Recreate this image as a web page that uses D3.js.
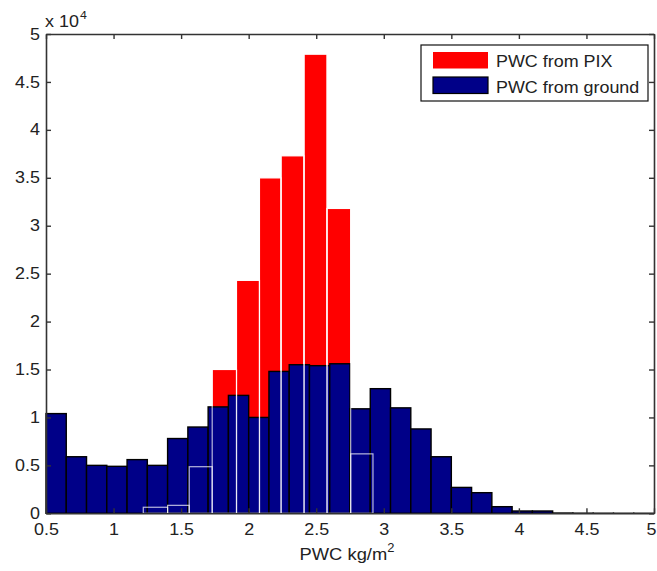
<!DOCTYPE html>
<html>
<head>
<meta charset="utf-8">
<script src="https://cdn.jsdelivr.net/npm/d3@7"></script>
<style>
  html, body { margin: 0; padding: 0; background: #fff; }
  svg { display: block; font-family: "Liberation Sans", Arial, Helvetica, sans-serif; }
</style>
</head>
<body>
<svg id="chart" width="657" height="571"></svg>
<script>
// Histogram of precipitable water content (PWC): ground bins (0.15 wide) and PIX bins.
const groundStart = 0.5;
const groundWidth = 0.15;
const groundCounts = [10400, 5900, 5000, 4900, 5600, 5000, 7800, 9000, 11100, 12300,
                      10000, 14800, 15500, 15400, 15600, 10900, 13000, 11000, 8800, 5900,
                      2700, 2150, 690, 240, 240, 30, 15, 10, 5, 5];

const pixEdges  = [1.22, 1.40, 1.56, 1.73, 1.91, 2.08, 2.24, 2.41, 2.58, 2.755, 2.92];
const pixCounts = [630, 830, 4860, 15000, 24300, 35000, 37300, 47900, 31800, 6200];

const xTicks = [0.5, 1, 1.5, 2, 2.5, 3, 3.5, 4, 4.5, 5];
const yTicks = [0, 5000, 10000, 15000, 20000, 25000, 30000, 35000, 40000, 45000, 50000];
const legendLabels = ["PWC from PIX", "PWC from ground"];
const colors = { pix: "#ff0000", ground: "#000088" };

const svg = d3.select("#chart");
const plot = { left: 46, right: 654, top: 34, bottom: 513.3 };
const STRETCH = 1.12;

const x = d3.scaleLinear().domain([0.5, 5]).range([plot.left, plot.right]);
const y = d3.scaleLinear().domain([0, 50000]).range([plot.bottom, plot.top]);

const groundBins = groundCounts.map((c, i) => ({
  x0: groundStart + i * groundWidth,
  x1: groundStart + (i + 1) * groundWidth,
  c
}));
const pixBins = pixCounts.map((c, i) => ({ x0: pixEdges[i], x1: pixEdges[i + 1], c }));

const rect = sel => sel
  .attr("x", d => x(d.x0))
  .attr("y", d => y(d.c))
  .attr("width", d => x(d.x1) - x(d.x0))
  .attr("height", d => y(0) - y(d.c));

// PIX bars (filled)
svg.append("g").selectAll("rect").data(pixBins).join("rect")
  .call(rect)
  .attr("fill", colors.pix)
  .attr("stroke", "#fff")
  .attr("stroke-width", 1);

// ground bars
svg.append("g").selectAll("rect").data(groundBins).join("rect")
  .call(rect)
  .attr("fill", colors.ground)
  .attr("stroke", "#000")
  .attr("stroke-width", 1.4);

// PIX bar edges rendered over everything
svg.append("g").selectAll("rect").data(pixBins).join("rect")
  .call(rect)
  .attr("fill", "none")
  .attr("stroke", "rgba(255,255,255,0.72)")
  .attr("stroke-width", 1.2);

// Axes box with inward ticks
const axisColor = "#333";
const fmt = v => String(+v.toFixed(2));

const gB = svg.append("g").attr("transform", `translate(0,${plot.bottom})`)
  .call(d3.axisBottom(x).tickValues(xTicks).tickSizeInner(-5).tickSizeOuter(0)
        .tickPadding(10).tickFormat(fmt));
const gT = svg.append("g").attr("transform", `translate(0,${plot.top})`)
  .call(d3.axisTop(x).tickValues(xTicks).tickSizeInner(-5).tickSizeOuter(0).tickFormat(""));
const gL = svg.append("g").attr("transform", `translate(${plot.left},0)`)
  .call(d3.axisLeft(y).tickValues(yTicks).tickSizeInner(-5).tickSizeOuter(0)
        .tickPadding(6).tickFormat(v => fmt(v / 10000)));
const gR = svg.append("g").attr("transform", `translate(${plot.right},0)`)
  .call(d3.axisRight(y).tickValues(yTicks).tickSizeInner(-5).tickSizeOuter(0).tickFormat(""));

[gB, gT, gL, gR].forEach(g => {
  g.attr("color", axisColor);
  g.select(".domain").attr("stroke-width", 1.6);
  g.selectAll(".tick line").attr("stroke-width", 1.4);
  g.selectAll(".tick text")
    .attr("font-size", 16)
    .attr("fill", "#222")
    .attr("transform", `scale(${STRETCH},1)`);
});
gL.selectAll(".tick text").attr("x", -6 / STRETCH);
// keep the last x label inside the page edge
gB.selectAll(".tick text").filter(d => d === 5).attr("x", -3 / STRETCH);

// Exponent marker above the y axis
const expo = svg.append("text")
  .attr("transform", `translate(45,27) scale(${STRETCH},1)`)
  .attr("font-size", 16).attr("fill", "#222");
expo.append("tspan").text("x 10");
expo.append("tspan").attr("font-size", 11).attr("dy", -8).attr("dx", 1).text("4");

// x axis label
const xl = svg.append("text")
  .attr("transform", `translate(347,560) scale(1.08,1)`)
  .attr("text-anchor", "middle")
  .attr("font-size", 17).attr("fill", "#222");
xl.append("tspan").text("PWC kg/m");
xl.append("tspan").attr("font-size", 12).attr("dy", -8).text("2");

// Legend
const lg = svg.append("g");
lg.append("rect")
  .attr("x", 421).attr("y", 45).attr("width", 227).attr("height", 56)
  .attr("fill", "#fff").attr("stroke", "#111").attr("stroke-width", 1.2);
const items = [
  { label: legendLabels[0], fill: colors.pix, stroke: "none", y: 52, base: 66.7 },
  { label: legendLabels[1], fill: colors.ground, stroke: "#000", y: 77, base: 92.5 }
];
items.forEach(it => {
  lg.append("rect")
    .attr("x", 433).attr("y", it.y).attr("width", 55).attr("height", 16.5)
    .attr("fill", it.fill).attr("stroke", it.stroke).attr("stroke-width", 1.2);
  lg.append("text")
    .attr("transform", `translate(496,${it.base}) scale(${STRETCH},1)`)
    .attr("font-size", 16).attr("fill", "#222")
    .text(it.label);
});
</script>
</body>
</html>
